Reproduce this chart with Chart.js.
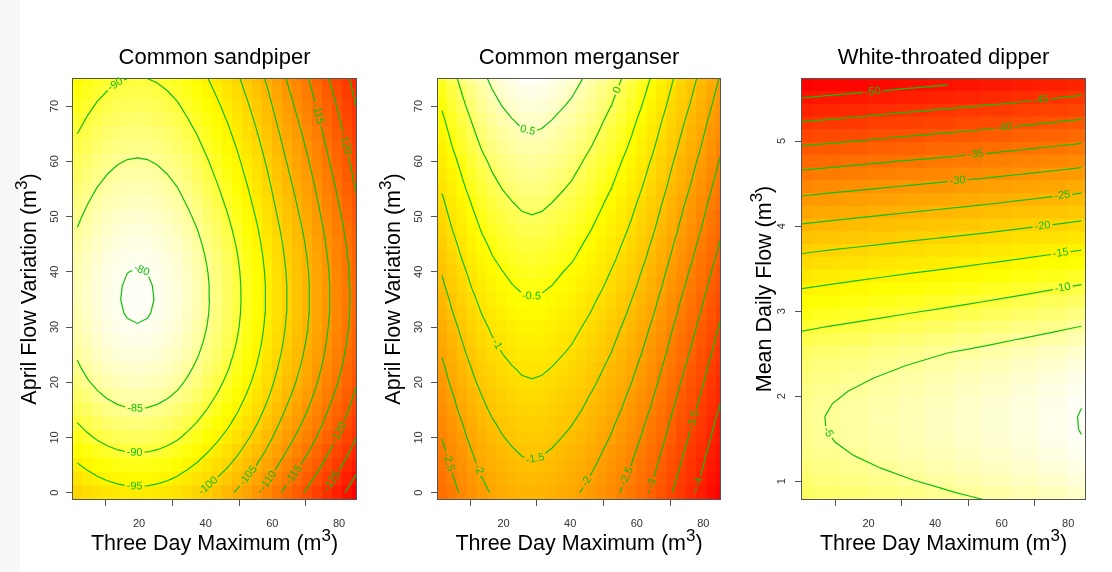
<!DOCTYPE html>
<html lang="en">
<head>
<meta charset="utf-8">
<title>Species response surfaces</title>
<script src="https://cdn.jsdelivr.net/npm/chart.js@4.4.1/dist/chart.umd.min.js"></script>
<style>
  html, body { margin: 0; padding: 0; background: #ffffff; }
  #page { position: relative; width: 1112px; height: 572px; overflow: hidden; background: #ffffff; }
  #edge { position: absolute; left: 0; top: 0; width: 20px; height: 572px; background: #f7f7f7; }
  #page canvas { position: absolute; top: 0; }
</style>
</head>
<body>
<div id="page">
  <div id="edge"></div>
  <canvas id="sandpiper" width="366" height="572" style="left:0px"></canvas>
  <canvas id="merganser" width="378" height="572" style="left:366px"></canvas>
  <canvas id="dipper" width="374" height="572" style="left:738px"></canvas>
</div>
<script>
// ===== Data =====
const xTicks = [20, 40, 60, 80];
const flowVarTicks = [0, 10, 20, 30, 40, 50, 60, 70];
const meanFlowTicks = [1, 2, 3, 4, 5];

// grid of the sandpiper and merganser surfaces
const threeDayMax = [1.5, 4.5, 7.5, 10.5, 13.5, 16.5, 19.5, 22.5, 25.5, 28.5, 31.5, 34.5, 37.5, 40.5, 43.5,
  46.5, 49.5, 52.5, 55.5, 58.5, 61.5, 64.5, 67.5, 70.5, 73.5, 76.5, 79.5, 82.5, 85.5];
const flowVariation = [0, 2.5, 5, 7.5, 10, 12.5, 15, 17.5, 20, 22.5, 25, 27.5, 30, 32.5, 35, 37.5, 40,
  42.5, 45, 47.5, 50, 52.5, 55, 57.5, 60, 62.5, 65, 67.5, 70, 72.5, 75];
// grid of the dipper surface
const dipperMax = [-1, 7.5, 16, 24.5, 33, 41.5, 50, 58.5, 67, 75.5, 84];
const meanFlow = [0.71, 0.86, 1.01, 1.16, 1.31, 1.46, 1.61, 1.76, 1.91, 2.06, 2.21, 2.36, 2.51, 2.66, 2.81,
  2.96, 3.11, 3.26, 3.41, 3.56, 3.71, 3.86, 4.01, 4.16, 4.31, 4.46, 4.61, 4.76, 4.91, 5.06, 5.21, 5.36, 5.51, 5.66];

// each surface = effect along x (one per column) + effect along y (one per row)
const sandpiperByMax = [-83.3, -82.2, -81.3, -80.6, -80.1, -79.8, -79.7, -79.8, -80.1, -80.6, -81.3, -82.3,
  -83.4, -84.7, -86.1, -87.6, -89.3, -91.2, -93.2, -95.4, -97.8, -100.1, -102.3, -104.5, -106.9, -109.4,
  -111.8, -114.3, -116.9];
const sandpiperByVar = [-16.3, -14.1, -12.0, -10.1, -8.35, -6.8, -5.4, -4.15, -3.05, -2.15, -1.4, -0.8,
  -0.37, -0.1, 0.0, -0.05, -0.22, -0.55, -1.0, -1.55, -2.2, -2.9, -3.6, -4.35, -5.1, -5.9, -6.7, -7.55,
  -8.4, -9.3, -10.2];
const merganserByMax = [-2.63, -2.42, -2.23, -2.05, -1.89, -1.76, -1.66, -1.58, -1.52, -1.50, -1.52, -1.57,
  -1.64, -1.71, -1.81, -1.92, -2.04, -2.17, -2.32, -2.48, -2.66, -2.85, -3.06, -3.28, -3.50, -3.71, -3.93,
  -4.16, -4.38];
const merganserByVar = [-0.21, -0.12, -0.03, 0.05, 0.14, 0.22, 0.31, 0.39, 0.48, 0.56, 0.65, 0.73, 0.81,
  0.90, 0.98, 1.07, 1.15, 1.24, 1.32, 1.41, 1.49, 1.57, 1.66, 1.74, 1.82, 1.91, 1.99, 2.07, 2.16, 2.24, 2.32];
const dipperByMax = [-0.15, 0.40, 0.93, 1.45, 1.98, 2.50, 3.02, 3.58, 4.18, 4.80, 5.45];
const dipperByFlow = [-8.78, -7.82, -7.02, -6.37, -5.88, -5.55, -5.38, -5.36, -5.50, -5.80, -6.26, -6.87,
  -7.65, -8.94, -10.33, -11.80, -13.30, -14.86, -16.55, -18.36, -20.34, -22.48, -24.68, -26.92, -29.22,
  -31.60, -34.10, -36.68, -39.34, -41.98, -44.64, -47.28, -49.98, -52.64];

// contour levels
const sandpiperLevels = [-80, -85, -90, -95, -100, -105, -110, -115, -120, -125, -130];
const merganserLevels = [0.5, 0, -0.5, -1, -1.5, -2, -2.5, -3, -3.5, -4];
const dipperLevels = [-50, -45, -40, -35, -30, -25, -20, -15, -10, -5, 0];

// contour labels: [level, x, y]
const sandpiperLabels = [[-80, 20.2, 39.4], [-85, 18.7, 14.6], [-90, 14.2, 72.9], [-90, 18.7, 7.3],
  [-95, 18.7, 1.6], [-100, 40.2, 1.6], [-105, 52.7, 3.1], [-110, 58.7, 2.2], [-115, 66.7, 3.1],
  [-115, 73.2, 68.5], [-120, 81.7, 63.1], [-120, 80.7, 10.7], [-125, 77.7, 2.2]];
const merganserLabels = [[0.5, 27.2, 65.5], [0, 54.6, 72.8], [-0.5, 28.5, 35.8], [-1, 16.6, 26.4],
  [-1.5, 29.6, 6.0], [-2, 11.6, 4.0], [-2, 46.1, 1.6], [-2.5, 3.1, 5.5], [-2.5, 57.6, 2.8],
  [-3, 64.6, 1.6], [-3.5, 77.6, 13.1], [-4, 78.6, 1.9]];
const dipperLabels = [[-50, 21.3, 5.58], [-45, 71.8, 5.486], [-40, 60.8, 5.16], [-35, 52.3, 4.835],
  [-30, 46.8, 4.521], [-25, 78.3, 4.337], [-20, 72.3, 4.004], [-15, 77.8, 3.682], [-10, 78.3, 3.29],
  [-5, 8.3, 1.59]];

// ===== Styling / layout =====
const FONT = '"Liberation Sans", Arial, Helvetica, sans-serif';
const GREEN = 'rgb(14,192,14)';
const LABEL_FONT = '11px ' + FONT;
const AXIS = '#555555';
const TICK = '#333333';
const CANVAS_H = 572;

Chart.defaults.font.family = FONT;
Chart.defaults.animation = false;

const panels = [
  { canvas: 'sandpiper', title: 'Common sandpiper', yTitle: 'April Flow Variation',
    cols: threeDayMax, rows: flowVariation, colFx: sandpiperByMax, rowFx: sandpiperByVar,
    levels: sandpiperLevels, labels: sandpiperLabels, yTicks: flowVarTicks,
    xMin: 0.2, xMax: 85.1, yMin: -1.14, yMax: 74.9,
    box: { left: 73, top: 79, right: 356, bottom: 499 }, canvasLeft: 0, canvasWidth: 366,
    yTickPad: 5, yTitleX: 36 },
  { canvas: 'merganser', title: 'Common merganser', yTitle: 'April Flow Variation',
    cols: threeDayMax, rows: flowVariation, colFx: merganserByMax, rowFx: merganserByVar,
    levels: merganserLevels, labels: merganserLabels, yTicks: flowVarTicks,
    xMin: 0.3, xMax: 85.0, yMin: -1.14, yMax: 74.9,
    box: { left: 438, top: 79, right: 720, bottom: 499 }, canvasLeft: 366, canvasWidth: 378,
    yTickPad: 6, yTitleX: 400 },
  { canvas: 'dipper', title: 'White-throated dipper', yTitle: 'Mean Daily Flow',
    cols: dipperMax, rows: meanFlow, colFx: dipperByMax, rowFx: dipperByFlow,
    levels: dipperLevels, labels: dipperLabels, yTicks: meanFlowTicks,
    xMin: 0, xMax: 85.05, yMin: 0.79, yMax: 5.73,
    box: { left: 802, top: 79, right: 1085, bottom: 499 }, canvasLeft: 738, canvasWidth: 374,
    yTickPad: 10, yTitleX: 771 }
];

// R-style heat colours: red -> yellow -> near white
function heatColour(t) {
  t = Math.min(1, Math.max(0, t));
  if (t <= 0.75) return 'rgb(255,' + Math.round(255 * t / 0.75) + ',0)';
  const s = 1 - 0.97 * (t - 0.75) / 0.25;
  return 'rgb(255,255,' + Math.round(255 * (1 - s)) + ')';
}

// marching squares over the cell grid
function contourPaths(xs, ys, z, level) {
  const pts = {};
  const segs = [];
  const above = v => v >= level;
  function edge(key, x0, y0, v0, x1, y1, v1) {
    if (!pts[key]) {
      const t = (level - v0) / (v1 - v0);
      pts[key] = { x: x0 + t * (x1 - x0), y: y0 + t * (y1 - y0) };
    }
    return key;
  }
  for (let j = 0; j < ys.length - 1; j++) {
    for (let i = 0; i < xs.length - 1; i++) {
      const c = [z[j][i], z[j][i + 1], z[j + 1][i + 1], z[j + 1][i]];
      const p = [[xs[i], ys[j]], [xs[i + 1], ys[j]], [xs[i + 1], ys[j + 1]], [xs[i], ys[j + 1]]];
      const keys = ['h' + i + '_' + j, 'v' + (i + 1) + '_' + j, 'h' + i + '_' + (j + 1), 'v' + i + '_' + j];
      const cross = [];
      for (let e = 0; e < 4; e++) {
        const a = e, b = (e + 1) % 4;
        if (above(c[a]) !== above(c[b])) {
          cross.push(edge(keys[e], p[a][0], p[a][1], c[a], p[b][0], p[b][1], c[b]));
        }
      }
      if (cross.length === 2) segs.push([cross[0], cross[1]]);
      else if (cross.length === 4) {
        const centre = (c[0] + c[1] + c[2] + c[3]) / 4;
        if (above(centre) === above(c[0])) { segs.push([cross[0], cross[1]]); segs.push([cross[2], cross[3]]); }
        else { segs.push([cross[3], cross[0]]); segs.push([cross[1], cross[2]]); }
      }
    }
  }
  const adj = {};
  segs.forEach((s, n) => {
    (adj[s[0]] = adj[s[0]] || []).push(n);
    (adj[s[1]] = adj[s[1]] || []).push(n);
  });
  const used = segs.map(() => false);
  const walk = (n, from) => {
    const keys = [from];
    let cur = from;
    while (n !== undefined && !used[n]) {
      used[n] = true;
      cur = segs[n][0] === cur ? segs[n][1] : segs[n][0];
      keys.push(cur);
      n = adj[cur].find(m => !used[m]);
    }
    return keys.map(k => pts[k]);
  };
  const paths = [];
  Object.keys(adj).forEach(k => {
    if (adj[k].length === 1 && !used[adj[k][0]]) paths.push(walk(adj[k][0], k));
  });
  segs.forEach((s, n) => { if (!used[n]) paths.push(walk(n, s[0])); });
  return paths;
}

// ===== contour label gaps =====
const measureCtx = document.createElement('canvas').getContext('2d');

function arcLengths(path, sx, sy) {
  const L = [0];
  for (let k = 1; k < path.length; k++) {
    L.push(L[k - 1] + Math.hypot((path[k].x - path[k - 1].x) * sx, (path[k].y - path[k - 1].y) * sy));
  }
  return L;
}
function pointAt(path, L, s) {
  let k = 1;
  while (k < path.length - 1 && L[k] < s) k++;
  const seg = L[k] - L[k - 1];
  const t = seg > 0 ? Math.min(1, Math.max(0, (s - L[k - 1]) / seg)) : 0;
  return { x: path[k - 1].x + t * (path[k].x - path[k - 1].x), y: path[k - 1].y + t * (path[k].y - path[k - 1].y), k };
}
function slicePath(path, L, a, b) {
  const A = pointAt(path, L, a), B = pointAt(path, L, b);
  const out = [{ x: A.x, y: A.y }];
  for (let i = A.k; i < B.k; i++) out.push({ x: path[i].x, y: path[i].y });
  out.push({ x: B.x, y: B.y });
  return out;
}

function cutForLabels(paths, anchors, sx, sy) {
  const items = [];
  measureCtx.font = LABEL_FONT;
  anchors.forEach(([level, ax, ay]) => {
    const list = paths.get(level);
    if (!list || !list.length) return;
    const text = String(level);
    const half = measureCtx.measureText(text).width / 2 + 2;
    let best = null;
    list.forEach((path, pi) => {
      const L = arcLengths(path, sx, sy);
      for (let k = 1; k < path.length; k++) {
        const x0 = path[k - 1].x * sx, y0 = path[k - 1].y * sy;
        const dx = path[k].x * sx - x0, dy = path[k].y * sy - y0;
        const len2 = dx * dx + dy * dy;
        let t = len2 > 0 ? ((ax * sx - x0) * dx + (ay * sy - y0) * dy) / len2 : 0;
        t = Math.max(0, Math.min(1, t));
        const d = Math.hypot(x0 + t * dx - ax * sx, y0 + t * dy - ay * sy);
        if (!best || d < best.d) best = { d, pi, L, s: L[k - 1] + t * Math.sqrt(len2) };
      }
    });
    const path = list[best.pi], L = best.L, total = L[L.length - 1], s = best.s;
    const closed = path.length > 2 && path[0] === path[path.length - 1];
    const pieces = [];
    if (closed) {
      const loop = path.concat(path.slice(1));
      if (total > 2 * half) pieces.push(slicePath(loop, arcLengths(loop, sx, sy), s + half, s - half + total));
    } else {
      if (s - half > 0) pieces.push(slicePath(path, L, 0, s - half));
      if (s + half < total) pieces.push(slicePath(path, L, s + half, total));
    }
    const c = pointAt(path, L, s);
    const p1 = pointAt(path, L, Math.max(0, s - half));
    const p2 = pointAt(path, L, Math.min(total, s + half));
    list.splice(best.pi, 1, ...pieces);
    items.push({ text, x: c.x, y: c.y, x1: p1.x, y1: p1.y, x2: p2.x, y2: p2.y });
  });
  return items;
}

// axis title with a superscript part
function drawSup(ctx, main, sup, tail, x, y, angle, size) {
  const fMain = size + 'px ' + FONT;
  const fSup = Math.round(size * 0.8) + 'px ' + FONT;
  ctx.font = fMain;
  const w1 = ctx.measureText(main).width, w3 = ctx.measureText(tail).width;
  ctx.font = fSup;
  const w2 = ctx.measureText(sup).width;
  let cx = -(w1 + w2 + w3) / 2;
  ctx.save();
  ctx.translate(x, y);
  ctx.rotate(angle);
  ctx.textAlign = 'left';
  ctx.textBaseline = 'alphabetic';
  ctx.font = fMain; ctx.fillText(main, cx, 0); cx += w1;
  ctx.font = fSup; ctx.fillText(sup, cx, -size * 0.42); cx += w2;
  ctx.font = fMain; ctx.fillText(tail, cx, 0);
  ctx.restore();
}

function decorPlugin(p) {
  return {
    id: 'decor',
    afterDraw(chart) {
      const ctx = chart.ctx, a = chart.chartArea, xs = chart.scales.x, ys = chart.scales.y;
      ctx.save();
      ctx.strokeStyle = AXIS;
      ctx.lineWidth = 1;
      ctx.strokeRect(a.left - 0.5, a.top - 0.5, a.right - a.left + 1, a.bottom - a.top + 1);

      ctx.font = LABEL_FONT;
      ctx.fillStyle = GREEN;
      ctx.textAlign = 'center';
      ctx.textBaseline = 'middle';
      p.labelItems.forEach(lb => {
        let ang = Math.atan2(ys.getPixelForValue(lb.y2) - ys.getPixelForValue(lb.y1),
          xs.getPixelForValue(lb.x2) - xs.getPixelForValue(lb.x1));
        if (ang > Math.PI / 2) ang -= Math.PI;
        if (ang < -Math.PI / 2) ang += Math.PI;
        ctx.save();
        ctx.translate(xs.getPixelForValue(lb.x), ys.getPixelForValue(lb.y));
        ctx.rotate(ang);
        ctx.fillText(lb.text, 0, 0);
        ctx.restore();
      });

      ctx.fillStyle = '#000000';
      ctx.textAlign = 'center';
      ctx.textBaseline = 'alphabetic';
      ctx.font = '22px ' + FONT;
      ctx.fillText(p.title, (a.left + a.right) / 2, 64);
      drawSup(ctx, 'Three Day Maximum (m', '3', ')', (a.left + a.right) / 2, 550, 0, 21.5);
      drawSup(ctx, p.yTitle + ' (m', '3', ')', p.yTitleX - p.canvasLeft, (a.top + a.bottom) / 2, -Math.PI / 2, 21.5);
      ctx.restore();
    }
  };
}

// ===== Charts =====
panels.forEach(p => {
  const z = p.rowFx.map(r => p.colFx.map(c => c + r));
  const flat = z.flat();
  const zMin = Math.min(...flat), zMax = Math.max(...flat);
  const halfRow = (p.rows[1] - p.rows[0]) / 2;

  const datasets = [];
  p.rows.forEach((yc, j) => {
    datasets.push({
      type: 'bar',
      data: p.cols.map(x => ({ x: x, y: [yc - halfRow, yc + halfRow] })),
      backgroundColor: p.cols.map((x, i) => heatColour((z[j][i] - zMin) / (zMax - zMin))),
      borderWidth: 0,
      barPercentage: 1,
      categoryPercentage: 1,
      grouped: false,
      order: 2
    });
  });

  const sx = (p.box.right - p.box.left) / (p.xMax - p.xMin);
  const sy = (p.box.bottom - p.box.top) / (p.yMax - p.yMin);
  const paths = new Map();
  p.levels.forEach(lv => paths.set(lv, contourPaths(p.cols, p.rows, z, lv)));
  p.labelItems = cutForLabels(paths, p.labels, sx, sy);
  paths.forEach(list => list.forEach(pts => {
    datasets.push({
      type: 'line', data: pts, borderColor: GREEN, borderWidth: 1.2,
      pointRadius: 0, tension: 0, fill: false, order: 1
    });
  }));

  const tickFont = { family: FONT, size: 11 };
  new Chart(document.getElementById(p.canvas), {
    type: 'bar',
    data: { datasets },
    options: {
      responsive: false,
      animation: false,
      events: [],
      layout: {
        padding: { left: 0, bottom: 0, top: p.box.top, right: p.canvasLeft + p.canvasWidth - p.box.right }
      },
      plugins: { legend: { display: false }, tooltip: { enabled: false } },
      scales: {
        x: {
          type: 'linear', min: p.xMin, max: p.xMax, offset: false,
          afterBuildTicks: s => { s.ticks = xTicks.map(v => ({ value: v })); },
          afterFit: s => { s.height = CANVAS_H - p.box.bottom; },
          grid: { drawOnChartArea: false, drawTicks: true, tickLength: 7, color: AXIS, lineWidth: 1 },
          border: { display: false },
          ticks: { autoSkip: false, minRotation: 0, maxRotation: 0, padding: 11, color: TICK, font: tickFont }
        },
        y: {
          type: 'linear', min: p.yMin, max: p.yMax,
          afterBuildTicks: s => { s.ticks = p.yTicks.map(v => ({ value: v })); },
          afterFit: s => { s.width = p.box.left - p.canvasLeft; },
          grid: { drawOnChartArea: false, drawTicks: true, tickLength: 7, color: AXIS, lineWidth: 1 },
          border: { display: false },
          ticks: { autoSkip: false, minRotation: 90, maxRotation: 90, crossAlign: 'center',
            padding: p.yTickPad, color: TICK, font: tickFont }
        }
      }
    },
    plugins: [decorPlugin(p)]
  });
});
</script>
</body>
</html>
